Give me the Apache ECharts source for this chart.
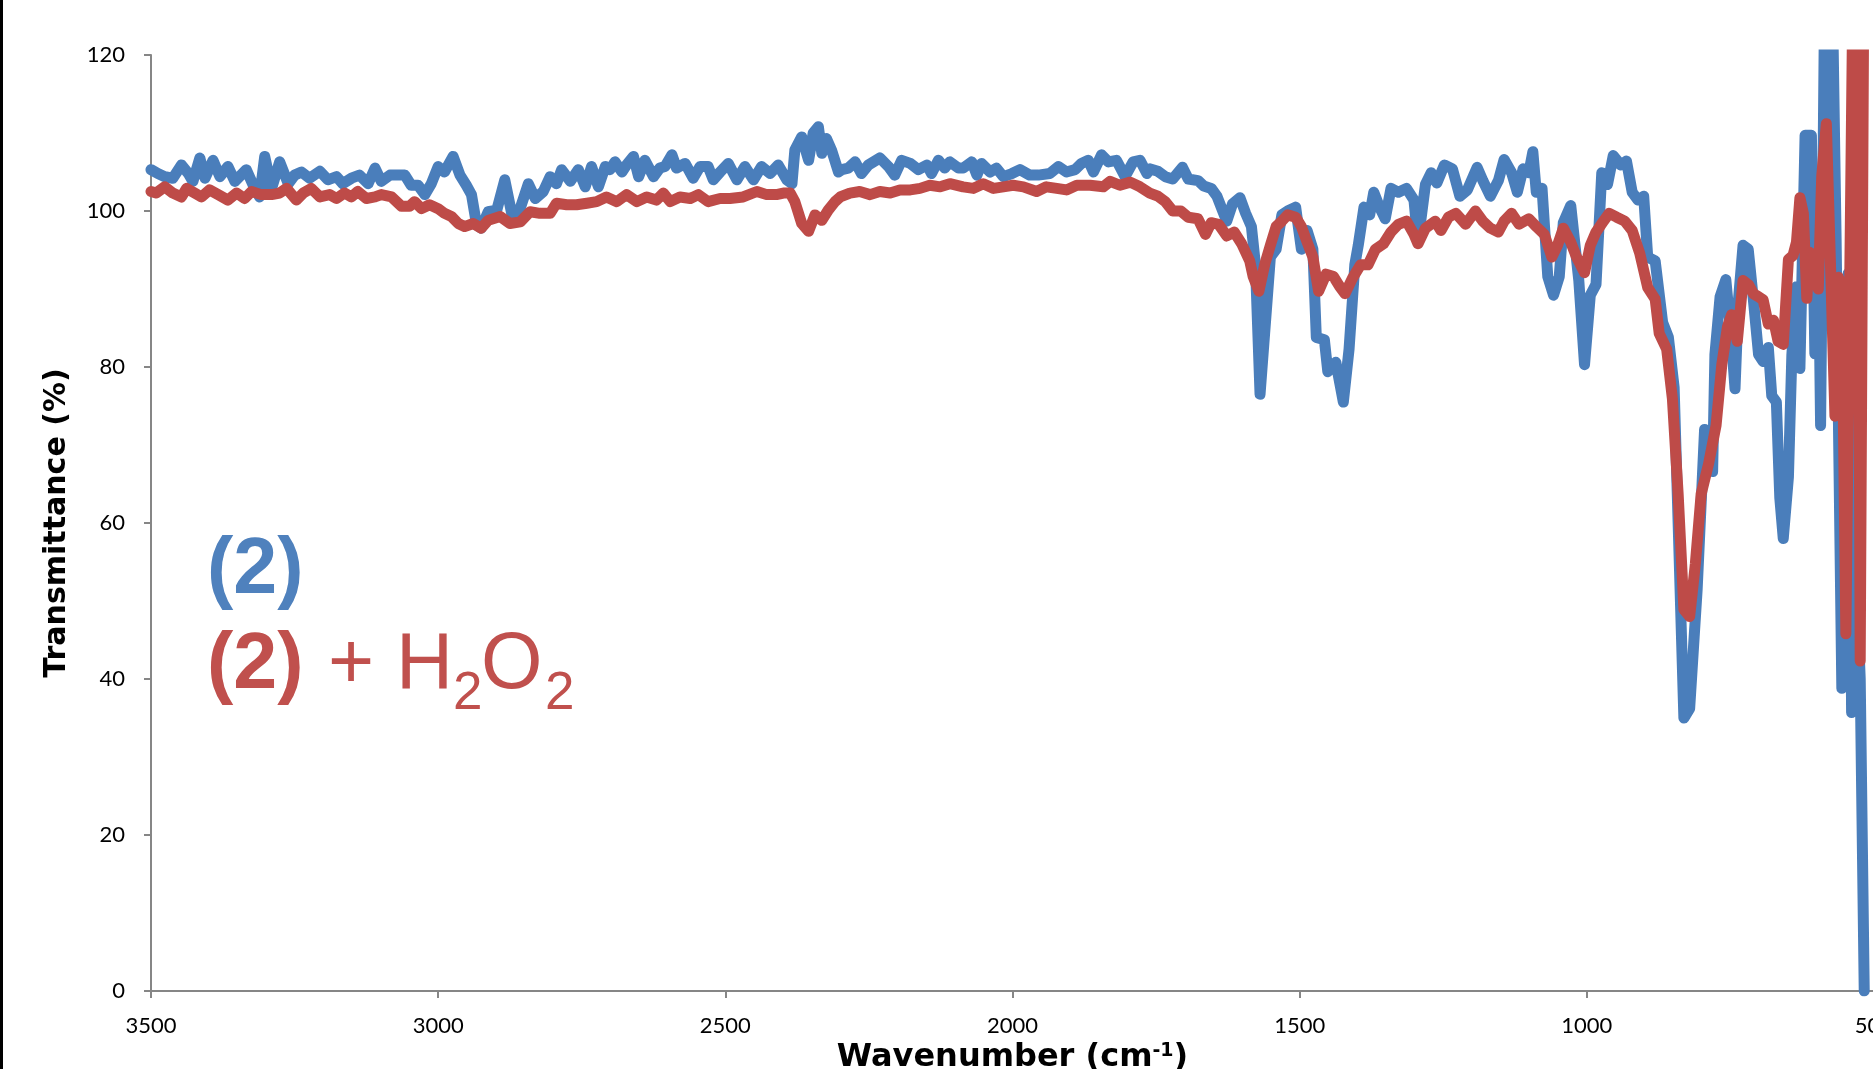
<!DOCTYPE html>
<html><head><meta charset="utf-8">
<script src="https://cdn.jsdelivr.net/npm/echarts@6/dist/echarts.min.js"></script>
<style>html,body{margin:0;padding:0;background:#fff;overflow:hidden}#c{width:1873px;height:1069px}</style>
</head><body><div id="c"></div>
<script>
// ---- Data ----
const xTicks = [3500, 3000, 2500, 2000, 1500, 1000, 500];
const yTicks = [0, 20, 40, 60, 80, 100, 120];

const blueWn = [3500,3488,3476,3462,3447,3435,3427,3415,3406,3392,3380,3366,3354,3334,3322,3311,3302,3290,3276,3261,3250,3238,3224,3206,3192,3177,3166,3151,3137,3122,3110,3099,3084,3070,3058,3047,3035,3023,3012,3000,2989,2974,2962,2951,2942,2933,2925,2913,
2898,2884,2872,2860,2843,2831,2817,2805,2794,2785,2770,2756,2744,2733,2721,2709,2701,2692,2680,2672,2660,2651,2640,2625,2614,2605,2593,2585,2570,2556,2544,2530,2521,2509,2495,2480,2466,2451,2437,2422,2408,2393,2384,2379,2367,2355,2347,2338,2332,2324,2315,2303,
2297,2286,2274,2263,2251,2231,2216,2205,2193,2178,2164,2149,2141,2129,2118,2109,2094,2086,2071,2062,2054,2039,2028,2016,2001,1987,1970,1955,1935,1920,1906,1891,1880,1868,1859,1845,1833,1819,1804,1790,1778,1766,
1760,1747,1734,1721,1704,1694,1677,1667,1654,1644,1634,1627,1617,1604,1594,1584,1577,1569,1561,1551,1541,1531,1521,1507,1497,1487,1477,1471,1457,1451,1437,1424,1414,1404,1398,1388,1378,1371,1361,1351,1341,1328,1314,1301,1294,1281,1271,1261,1248,1234,1221,1208,1191,1181,1168,1154,1144,1131,1121,1111,1101,1094,1088,1078,1068,1058,1048,1041,1028,1014,1004,994,984,974,964,954,941,931,921,911,901,894,881,868,858,848,831,821,808,795,781,
777,768,758,748,742,736,728,719,710,701,693,684,678,670,664,658,649,643,635,629,620,609,603,597,593,585,574,566,556,545,539,532,524,517];
const blueT = [105.3,104.8,104.4,104.2,105.9,104.8,103.8,106.8,104.2,106.5,104.4,105.7,103.8,105.3,103.3,101.8,107.0,102.9,106.3,103.5,104.6,105.0,104.2,105.1,104.0,104.4,103.5,104.2,104.6,103.5,105.5,103.8,104.6,104.6,104.6,103.3,103.3,102.1,103.5,105.7,105.0,107.0,104.6,103.3,102.1,98.2,97.8,99.9,
100.1,104.0,99.7,99.7,103.5,101.6,102.5,104.4,103.5,105.3,103.8,105.3,103.1,105.7,103.1,105.7,105.3,106.3,105.0,105.9,107.0,104.4,106.5,104.4,105.5,105.7,107.2,105.5,106.1,104.2,105.7,105.7,104.0,105.0,106.1,104.0,105.7,104.0,105.7,104.8,105.9,104.0,103.5,107.8,109.5,106.5,110.0,110.8,107.4,109.3,107.8,105.0,
105.3,105.5,106.3,104.8,105.9,106.8,105.7,104.6,106.5,106.1,105.3,105.9,104.8,106.5,105.5,106.3,105.5,105.5,106.3,104.6,106.1,105.0,105.5,104.4,104.8,105.3,104.6,104.6,104.8,105.7,105.0,105.3,106.1,106.5,105.0,107.2,106.3,106.5,104.4,106.3,106.5,104.8,
105.4,105.1,104.4,104.1,105.6,104.1,103.9,103.2,102.9,101.9,100.0,98.7,100.9,101.7,99.7,98.0,93.1,76.5,84.3,94.1,95.1,99.5,100.0,100.5,95.1,97.5,95.1,83.8,83.5,79.4,80.6,75.5,82.3,93.1,95.6,100.5,99.5,102.4,100.5,99.0,102.9,102.4,102.9,101.4,96.0,103.4,104.9,103.6,105.9,105.4,101.9,102.7,105.6,103.9,101.9,103.9,106.6,104.9,102.4,105.4,104.9,107.6,102.4,102.9,91.6,89.2,91.6,98.5,100.7,91.1,80.3,89.2,90.6,104.9,103.4,107.1,105.9,106.4,102.4,101.4,101.9,94.1,93.6,85.7,83.8,77.4,35.0,36.2,51.4,72.0,66.6,
81.6,89.0,91.2,83.3,77.2,88.6,95.6,95.1,88.6,81.6,80.7,82.5,76.3,75.5,63.2,58.0,65.9,81.6,90.3,79.8,109.7,109.7,81.7,96.3,72.5,135,135,96.5,38.8,92.0,35.7,55,40,0];

const redWn = [3500,3491,3476,3462,3447,3438,3424,3412,3398,3383,3366,3351,3337,3325,3308,3290,3276,3264,3247,3235,3221,3206,3189,3177,3163,3151,3140,3125,3110,3099,3081,3064,3050,3041,3029,3015,3000,2989,2977,2965,2954,2939,2925,2913,
2892,2875,2857,2840,2823,2805,2794,2776,2759,2741,2724,2707,2689,2672,2654,2637,2620,2608,2596,2579,2561,2547,2530,2509,2492,2469,2445,2428,2411,2399,2387,2379,2367,2355,2344,2332,2321,
2309,2300,2283,2266,2248,2231,2213,2196,2178,2161,2144,2126,2109,2086,2068,2051,2033,2016,1999,1981,1958,1941,1923,1906,1888,1865,1842,1830,1813,1795,1778,
1761,1747,1734,1721,1707,1694,1677,1664,1654,1641,1627,1614,1601,1587,1581,1571,1561,1551,1541,1531,1521,1507,1497,1487,1477,1467,1454,1441,1431,1421,1408,1394,1381,1368,1354,1341,1328,1314,1301,1294,1281,1264,1254,1241,1228,1211,1194,1181,1168,1154,1144,1131,1118,1101,1088,1074,1061,1051,1041,1028,1018,1004,994,984,971,961,948,934,921,908,894,881,874,861,851,841,831,821,811,801,788,775,765,755,748,738,728,
718,710,701,693,684,675,667,658,649,641,635,629,623,617,612,603,597,591,583,568,562,556,549,535,529,524,517];
const redT = [102.5,102.3,103.1,102.3,101.8,102.9,102.3,101.8,102.7,102.1,101.4,102.3,101.6,102.5,102.1,102.1,102.3,102.9,101.4,102.3,102.9,101.8,102.1,101.6,102.3,101.8,102.5,101.6,101.8,102.1,101.8,100.6,100.6,101.2,100.3,100.8,100.3,99.7,99.3,98.4,98.0,98.4,97.8,98.8,
99.3,98.4,98.6,99.9,99.7,99.7,101.0,100.8,100.8,101.0,101.2,101.8,101.2,102.1,101.2,101.8,101.4,102.3,101.2,101.8,101.6,102.1,101.2,101.6,101.6,101.8,102.5,102.1,102.1,102.3,102.3,101.2,98.4,97.4,99.5,98.8,100.1,
101.2,101.8,102.3,102.5,102.1,102.5,102.3,102.7,102.7,102.9,103.3,103.1,103.5,103.1,102.9,103.5,102.9,103.1,103.3,103.1,102.5,103.1,102.9,102.7,103.3,103.3,103.1,103.8,103.3,103.7,103.1,
102.3,101.9,101.2,100.0,100.0,99.2,99.0,97.0,98.5,98.3,96.8,97.3,95.8,93.6,91.6,89.7,93.1,95.6,98.0,98.7,99.5,99.2,98.0,96.0,94.1,89.7,91.9,91.6,90.4,89.4,91.4,93.1,93.1,95.1,95.8,97.3,98.3,98.7,97.0,95.8,97.8,98.7,97.5,99.2,99.7,98.3,100.0,98.7,97.8,97.3,98.7,99.7,98.3,99.0,98.0,97.0,94.1,95.6,97.8,96.0,94.1,92.1,95.6,97.3,98.7,99.7,99.2,98.7,97.5,94.6,90.2,88.7,84.3,82.3,75.9,63.7,48.9,48.0,54.8,63.7,67.6,72.5,80.3,85.2,86.7,83.3,91.1,
90.5,89.4,89.0,88.6,85.5,86.0,83.3,82.9,93.8,94.3,96.0,101.7,99.7,88.8,94.7,94.3,90.0,104.5,111.2,73.7,91.5,90.3,45.8,140,140,42.3,140];

const seriesNames = ['(2)', '(2) + H2O2'];
const seriesColors = ['#4A7EBB', '#BE4B48'];

const blueData = blueWn.map((w, i) => [w, blueT[i]]);
const redData = redWn.map((w, i) => [w, redT[i]]);

const chart = echarts.init(document.getElementById('c'), null, {renderer: 'canvas'});
const axisGray = '#868686';
const option = {
  animation: false,
  backgroundColor: '#ffffff',
  grid: {left: 151, right: -1, top: 55, bottom: 78, containLabel: false, outerBoundsMode: 'none'},
  xAxis: {
    type: 'value', inverse: true,
    min: xTicks[xTicks.length - 1], max: xTicks[0], interval: xTicks[0] - xTicks[1],
    name: '{a|Wavenumber (cm}{b|-1}{a|)}',
    nameLocation: 'middle', nameGap: 42,
    nameTextStyle: {
      rich: {
        a: {fontFamily: 'DejaVu Sans', fontWeight: 'bold', fontSize: 32, color: '#000', lineHeight: 32},
        b: {fontFamily: 'DejaVu Sans', fontWeight: 'bold', fontSize: 19, color: '#000', lineHeight: 19, verticalAlign: 'top'}
      }
    },
    axisLine: {show: true, onZero: false, lineStyle: {color: axisGray, width: 2}},
    axisTick: {show: true, length: 7, inside: false, lineStyle: {color: axisGray, width: 2}},
    axisLabel: {show: true, margin: 24, fontFamily: 'Lato', fontSize: 22, color: '#000', showMinLabel: true, showMaxLabel: true, hideOverlap: false,
      formatter: v => String(v)},
    splitLine: {show: false}
  },
  yAxis: {
    type: 'value', min: yTicks[0], max: yTicks[yTicks.length - 1], interval: yTicks[1] - yTicks[0],
    name: 'Transmittance (%)', nameLocation: 'middle', nameRotate: 90, nameGap: 79,
    nameTextStyle: {fontFamily: 'DejaVu Sans', fontWeight: 'bold', fontSize: 30, color: '#000'},
    axisLine: {show: true, lineStyle: {color: axisGray, width: 2}},
    axisTick: {show: true, length: 7, inside: false, lineStyle: {color: axisGray, width: 2}},
    axisLabel: {show: true, margin: 26, fontFamily: 'Lato', fontSize: 22, color: '#000', formatter: v => String(v)},
    splitLine: {show: false}
  },
  series: [
    {name: seriesNames[0], type: 'line', data: blueData, showSymbol: false, symbol: 'none', clip: true,
     lineStyle: {color: seriesColors[0], width: 11, cap: 'round', join: 'round'}, itemStyle: {color: seriesColors[0]}, z: 2},
    {name: seriesNames[1], type: 'line', data: redData, showSymbol: false, symbol: 'none', clip: true,
     lineStyle: {color: seriesColors[1], width: 11, cap: 'round', join: 'round'}, itemStyle: {color: seriesColors[1]}, z: 3}
  ],
  graphic: [
    {type: 'rect', left: 0, top: 0, shape: {width: 3, height: 1069}, style: {fill: '#000'}, silent: true},
    {type: 'text', x: 207, y: 571, style: {text: '(2)', font: 'bold 79px "Liberation Sans", Arial, sans-serif', fill: '#4F81BD', verticalAlign: 'middle'}},
    {type: 'text', x: 207, y: 666, style: {text: '(2)', font: 'bold 79px "Liberation Sans", Arial, sans-serif', fill: '#C0504D', verticalAlign: 'middle'}},
    {type: 'text', x: 328, y: 666, style: {text: '+', font: '79px "Liberation Sans", Arial, sans-serif', fill: '#C0504D', verticalAlign: 'middle'}},
    {type: 'text', x: 396, y: 666, style: {text: 'H', font: '79px "Liberation Sans", Arial, sans-serif', fill: '#C0504D', verticalAlign: 'middle'}},
    {type: 'text', x: 453, y: 694, style: {text: '2', font: '53px "Liberation Sans", Arial, sans-serif', fill: '#C0504D', verticalAlign: 'middle'}},
    {type: 'text', x: 481, y: 666, style: {text: 'O', font: '79px "Liberation Sans", Arial, sans-serif', fill: '#C0504D', verticalAlign: 'middle'}},
    {type: 'text', x: 545, y: 694, style: {text: '2', font: '53px "Liberation Sans", Arial, sans-serif', fill: '#C0504D', verticalAlign: 'middle'}}
  ]
};
chart.setOption(option);
</script>
</body></html>
